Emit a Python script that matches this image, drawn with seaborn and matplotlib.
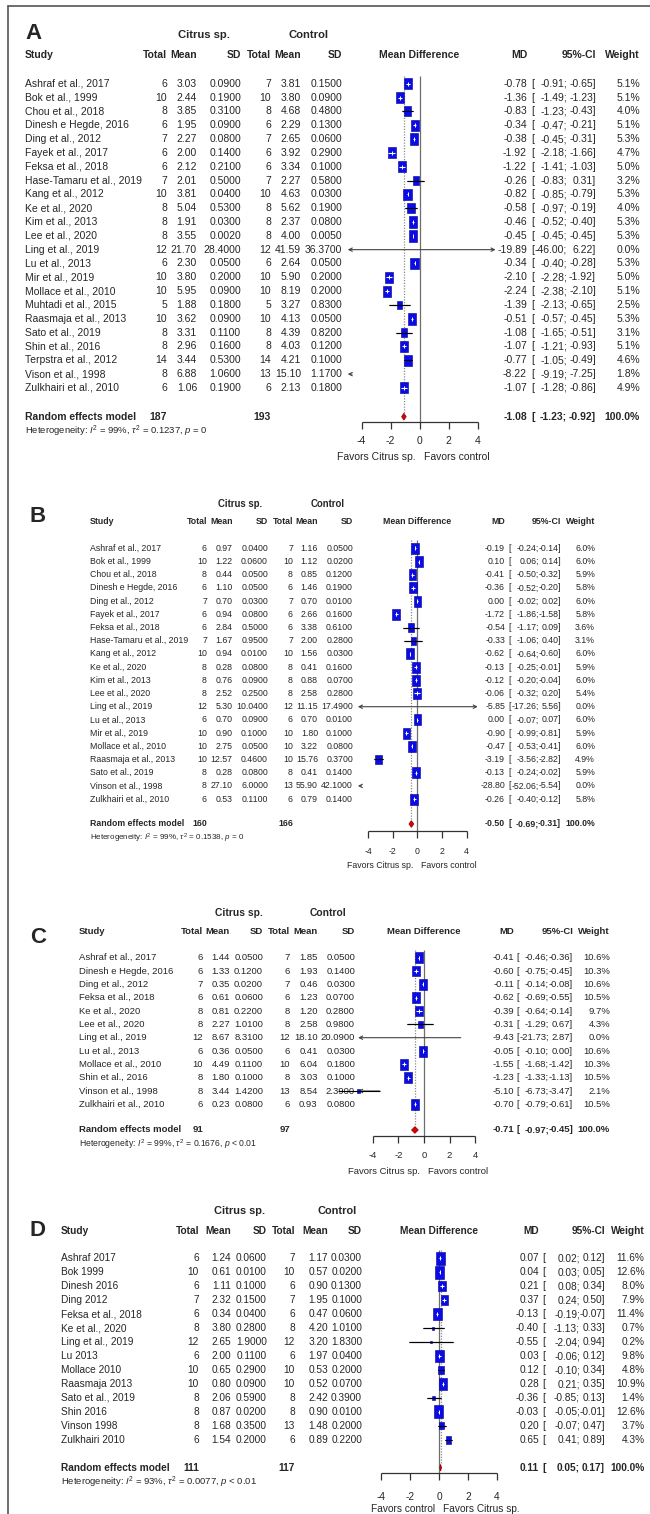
import numpy as np
import pandas as pd
import matplotlib
matplotlib.use("Agg")
import matplotlib.pyplot as plt
from matplotlib.lines import Line2D
import seaborn as sns

# ---------------- panel A ----------------
a_study = ["Ashraf et al., 2017", "Bok et al., 1999", "Chou et al., 2018", "Dinesh e Hegde, 2016",
           "Ding et al., 2012", "Fayek et al., 2017", "Feksa et al., 2018", "Hase-Tamaru et al., 2019",
           "Kang et al., 2012", "Ke et al., 2020", "Kim et al., 2013", "Lee et al., 2020",
           "Ling et al., 2019", "Lu et al., 2013", "Mir et al., 2019", "Mollace et al., 2010",
           "Muhtadi et al., 2015", "Raasmaja et al., 2013", "Sato et al., 2019", "Shin et al., 2016",
           "Terpstra et al., 2012", "Vison et al., 1998", "Zulkhairi et al., 2010"]
a_n1 = [6, 10, 8, 6, 7, 6, 6, 7, 10, 8, 8, 8, 12, 6, 10, 10, 5, 10, 8, 8, 14, 8, 6]
a_mean1 = [3.03, 2.44, 3.85, 1.95, 2.27, 2.00, 2.12, 2.01, 3.81, 5.04, 1.91, 3.55, 21.70, 2.30,
           3.80, 5.95, 1.88, 3.62, 3.31, 2.96, 3.44, 6.88, 1.06]
a_sd1 = [0.09, 0.19, 0.31, 0.09, 0.08, 0.14, 0.21, 0.50, 0.04, 0.53, 0.03, 0.002, 28.40, 0.05,
         0.20, 0.09, 0.18, 0.09, 0.11, 0.16, 0.53, 1.06, 0.19]
a_n2 = [7, 10, 8, 6, 7, 6, 6, 7, 10, 8, 8, 8, 12, 6, 10, 10, 5, 10, 8, 8, 14, 13, 6]
a_mean2 = [3.81, 3.80, 4.68, 2.29, 2.65, 3.92, 3.34, 2.27, 4.63, 5.62, 2.37, 4.00, 41.59, 2.64,
           5.90, 8.19, 3.27, 4.13, 4.39, 4.03, 4.21, 15.10, 2.13]
a_sd2 = [0.15, 0.09, 0.48, 0.13, 0.06, 0.29, 0.10, 0.58, 0.03, 0.19, 0.08, 0.005, 36.37, 0.05,
         0.20, 0.20, 0.83, 0.05, 0.82, 0.12, 0.10, 1.17, 0.18]
a_md = [-0.78, -1.36, -0.83, -0.34, -0.38, -1.92, -1.22, -0.26, -0.82, -0.58, -0.46, -0.45, -19.89,
        -0.34, -2.10, -2.24, -1.39, -0.51, -1.08, -1.07, -0.77, -8.22, -1.07]
a_lo = [-0.91, -1.49, -1.23, -0.47, -0.45, -2.18, -1.41, -0.83, -0.85, -0.97, -0.52, -0.45, -46.00,
        -0.40, -2.28, -2.38, -2.13, -0.57, -1.65, -1.21, -1.05, -9.19, -1.28]
a_hi = [-0.65, -1.23, -0.43, -0.21, -0.31, -1.66, -1.03, 0.31, -0.79, -0.19, -0.40, -0.45, 6.22,
        -0.28, -1.92, -2.10, -0.65, -0.45, -0.51, -0.93, -0.49, -7.25, -0.86]
a_wt = [5.1, 5.1, 4.0, 5.1, 5.3, 4.7, 5.0, 3.2, 5.3, 4.0, 5.3, 5.3, 0.0, 5.3, 5.0, 5.1, 2.5, 5.3,
        3.1, 5.1, 4.6, 1.8, 4.9]
a_pooled = [187, 193, -1.08, -1.23, -0.92]
a_het = r"Heterogeneity: $I^2$ = 99%, $\tau^2$ = 0.1237, $p$ = 0"

# ---------------- panel B ----------------
b_study = ["Ashraf et al., 2017", "Bok et al., 1999", "Chou et al., 2018", "Dinesh e Hegde, 2016",
           "Ding et al., 2012", "Fayek et al., 2017", "Feksa et al., 2018", "Hase-Tamaru et al., 2019",
           "Kang et al., 2012", "Ke et al., 2020", "Kim et al., 2013", "Lee et al., 2020",
           "Ling et al., 2019", "Lu et al., 2013", "Mir et al., 2019", "Mollace et al., 2010",
           "Raasmaja et al., 2013", "Sato et al., 2019", "Vinson et al., 1998", "Zulkhairi et al., 2010"]
b_n1 = [6, 10, 8, 6, 7, 6, 6, 7, 10, 8, 8, 8, 12, 6, 10, 10, 10, 8, 8, 6]
b_mean1 = [0.97, 1.22, 0.44, 1.10, 0.70, 0.94, 2.84, 1.67, 0.94, 0.28, 0.76, 2.52, 5.30, 0.70,
           0.90, 2.75, 12.57, 0.28, 27.10, 0.53]
b_sd1 = [0.04, 0.06, 0.05, 0.05, 0.03, 0.08, 0.50, 0.95, 0.01, 0.08, 0.09, 0.25, 10.04, 0.09,
         0.10, 0.05, 0.46, 0.08, 6.00, 0.11]
b_n2 = [7, 10, 8, 6, 7, 6, 6, 7, 10, 8, 8, 8, 12, 6, 10, 10, 10, 8, 13, 6]
b_mean2 = [1.16, 1.12, 0.85, 1.46, 0.70, 2.66, 3.38, 2.00, 1.56, 0.41, 0.88, 2.58, 11.15, 0.70,
           1.80, 3.22, 15.76, 0.41, 55.90, 0.79]
b_sd2 = [0.05, 0.02, 0.12, 0.19, 0.01, 0.16, 0.61, 0.28, 0.03, 0.16, 0.07, 0.28, 17.49, 0.01,
         0.10, 0.08, 0.37, 0.14, 42.10, 0.14]
b_md = [-0.19, 0.10, -0.41, -0.36, 0.00, -1.72, -0.54, -0.33, -0.62, -0.13, -0.12, -0.06, -5.85,
        0.00, -0.90, -0.47, -3.19, -0.13, -28.80, -0.26]
b_lo = [-0.24, 0.06, -0.50, -0.52, -0.02, -1.86, -1.17, -1.06, -0.64, -0.25, -0.20, -0.32, -17.26,
        -0.07, -0.99, -0.53, -3.56, -0.24, -52.06, -0.40]
b_hi = [-0.14, 0.14, -0.32, -0.20, 0.02, -1.58, 0.09, 0.40, -0.60, -0.01, -0.04, 0.20, 5.56,
        0.07, -0.81, -0.41, -2.82, -0.02, -5.54, -0.12]
b_wt = [6.0, 6.0, 5.9, 5.8, 6.0, 5.8, 3.6, 3.1, 6.0, 5.9, 6.0, 5.4, 0.0, 6.0, 5.9, 6.0, 4.9, 5.9,
        0.0, 5.8]
b_pooled = [160, 166, -0.50, -0.69, -0.31]
b_het = r"Heterogeneity: $I^2$ = 99%, $\tau^2$ = 0.1538, $p$ = 0"

# ---------------- panel C ----------------
c_study = ["Ashraf et al., 2017", "Dinesh e Hegde, 2016", "Ding et al., 2012", "Feksa et al., 2018",
           "Ke et al., 2020", "Lee et al., 2020", "Ling et al., 2019", "Lu et al., 2013",
           "Mollace et al., 2010", "Shin et al., 2016", "Vinson et al., 1998", "Zulkhairi et al., 2010"]
c_n1 = [6, 6, 7, 6, 8, 8, 12, 6, 10, 8, 8, 6]
c_mean1 = [1.44, 1.33, 0.35, 0.61, 0.81, 2.27, 8.67, 0.36, 4.49, 1.80, 3.44, 0.23]
c_sd1 = [0.05, 0.12, 0.02, 0.06, 0.22, 1.01, 8.31, 0.05, 0.11, 0.10, 1.42, 0.08]
c_n2 = [7, 6, 7, 6, 8, 8, 12, 6, 10, 8, 13, 6]
c_mean2 = [1.85, 1.93, 0.46, 1.23, 1.20, 2.58, 18.10, 0.41, 6.04, 3.03, 8.54, 0.93]
c_sd2 = [0.05, 0.14, 0.03, 0.07, 0.28, 0.98, 20.09, 0.03, 0.18, 0.10, 2.39, 0.08]
c_md = [-0.41, -0.60, -0.11, -0.62, -0.39, -0.31, -9.43, -0.05, -1.55, -1.23, -5.10, -0.70]
c_lo = [-0.46, -0.75, -0.14, -0.69, -0.64, -1.29, -21.73, -0.10, -1.68, -1.33, -6.73, -0.79]
c_hi = [-0.36, -0.45, -0.08, -0.55, -0.14, 0.67, 2.87, 0.00, -1.42, -1.13, -3.47, -0.61]
c_wt = [10.6, 10.3, 10.6, 10.5, 9.7, 4.3, 0.0, 10.6, 10.3, 10.5, 2.1, 10.5]
c_pooled = [91, 97, -0.71, -0.97, -0.45]
c_het = r"Heterogeneity: $I^2$ = 99%, $\tau^2$ = 0.1676, $p$ < 0.01"

# ---------------- panel D ----------------
d_study = ["Ashraf 2017", "Bok 1999", "Dinesh 2016", "Ding 2012", "Feksa et al., 2018",
           "Ke et al., 2020", "Ling et al., 2019", "Lu 2013", "Mollace 2010", "Raasmaja 2013",
           "Sato et al., 2019", "Shin 2016", "Vinson 1998", "Zulkhairi 2010"]
d_n1 = [6, 10, 6, 7, 6, 8, 12, 6, 10, 10, 8, 8, 8, 6]
d_mean1 = [1.24, 0.61, 1.11, 2.32, 0.34, 3.80, 2.65, 2.00, 0.65, 0.80, 2.06, 0.87, 1.68, 1.54]
d_sd1 = [0.06, 0.01, 0.10, 0.15, 0.04, 0.28, 1.90, 0.11, 0.29, 0.09, 0.59, 0.02, 0.35, 0.20]
d_n2 = [7, 10, 6, 7, 6, 8, 12, 6, 10, 10, 8, 8, 13, 6]
d_mean2 = [1.17, 0.57, 0.90, 1.95, 0.47, 4.20, 3.20, 1.97, 0.53, 0.52, 2.42, 0.90, 1.48, 0.89]
d_sd2 = [0.03, 0.02, 0.13, 0.10, 0.06, 1.01, 1.83, 0.04, 0.20, 0.07, 0.39, 0.01, 0.20, 0.22]
d_md = [0.07, 0.04, 0.21, 0.37, -0.13, -0.40, -0.55, 0.03, 0.12, 0.28, -0.36, -0.03, 0.20, 0.65]
d_lo = [0.02, 0.03, 0.08, 0.24, -0.19, -1.13, -2.04, -0.06, -0.10, 0.21, -0.85, -0.05, -0.07, 0.41]
d_hi = [0.12, 0.05, 0.34, 0.50, -0.07, 0.33, 0.94, 0.12, 0.34, 0.35, 0.13, -0.01, 0.47, 0.89]
d_wt = [11.6, 12.6, 8.0, 7.9, 11.4, 0.7, 0.2, 9.8, 4.8, 10.9, 1.4, 12.6, 3.7, 4.3]
d_pooled = [111, 117, 0.11, 0.05, 0.17]
d_het = r"Heterogeneity: $I^2$ = 93%, $\tau^2$ = 0.0077, $p$ < 0.01"

md_ticks = [-4, -2, 0, 2, 4]
col_heads = ["Total", "Mean", "SD", "Total", "Mean", "SD"]
fav_citrus_left = ["Favors Citrus sp.", "Favors control"]
fav_control_left = ["Favors control", "Favors Citrus sp."]

# page layout in pixels (figure is 650 x 1514)
W, H = 650, 1514
lay_a = dict(zero=419.5, scale=14.5, y0=83.7, dy=13.83, lab=(25, 34), grp_y=35, cit_x=204, con_x=308,
             hdr_y=55, study_x=25, cols=[167, 197, 241, 271, 301, 342], md_r=527, ci_l=531, semi=567,
             ci_r=596, w_r=640, rand_y=416.7, het_y=431.5, axis_y=421.7, tl_y=441.5, fav_y=457.5,
             fs=7.5, hfs=6.8, clip=(-4.95, 5.25), hmax=11.5)
lay_b = dict(zero=417.5, scale=12.3, y0=548.3, dy=13.2, lab=(30, 517), grp_y=504, cit_x=240, con_x=328,
             hdr_y=522, study_x=90, cols=[207, 232.5, 268, 293, 318, 353], md_r=505, ci_l=508.5, semi=539,
             ci_r=561, w_r=595, rand_y=824, het_y=838, axis_y=831, tl_y=852, fav_y=865,
             fs=6.3, hfs=5.8, clip=(-4.85, 4.9), hmax=11.0)
lay_c = dict(zero=424, scale=12.8, y0=957.7, dy=13.33, lab=(30, 938), grp_y=913, cit_x=239, con_x=328,
             hdr_y=932, study_x=79, cols=[203, 230, 263, 290, 317.5, 355], md_r=514, ci_l=516.5, semi=549,
             ci_r=573, w_r=610, rand_y=1130, het_y=1144, axis_y=1136, tl_y=1156, fav_y=1171,
             fs=6.8, hfs=6.2, clip=(-5.15, 5.15), hmax=11.0)
lay_d = dict(zero=439, scale=14.5, y0=1258.3, dy=13.97, lab=(30, 1230), grp_y=1211, cit_x=240, con_x=337.5,
             hdr_y=1231, study_x=61, cols=[199, 231, 267, 295, 328, 362], md_r=539, ci_l=542.5, semi=580,
             ci_r=605, w_r=644.5, rand_y=1467.7, het_y=1482.7, axis_y=1473, tl_y=1497, fav_y=1509.5,
             fs=7.3, hfs=6.8, clip=(-5.1, 5.1), hmax=13.0)

BLUE = "#0b0be6"
BLUE_EDGE = "#00008b"
GREY = "#6e6e6e"
# tall rectangle marker (the squares look narrower than tall)
RECT = [(-0.36, -0.5), (0.36, -0.5), (0.36, 0.5), (-0.36, 0.5), (-0.36, -0.5)]


def draw_panel(fig, letter, study, n1, m1, s1, n2, m2, s2, md, lo, hi, wt, pooled, het, fav, lay):
    zero, scale, y0, dy = lay["zero"], lay["scale"], lay["y0"], lay["dy"]
    ax = fig.add_axes([0, 0, 1, 1])
    X = lambda px: (px - zero) / scale
    Y = lambda py: (py - y0) / dy
    fs = lay["fs"]
    md, lo, hi, wt = map(np.asarray, (md, lo, hi, wt))
    rows = np.arange(len(study))

    # titles
    ax.text(X(lay["lab"][0]), Y(lay["lab"][1]), letter, fontsize=16, fontweight="bold",
            ha="left", va="center")
    ax.text(X(lay["cit_x"]), Y(lay["grp_y"]), "Citrus sp.", fontsize=fs + 0.6, fontweight="bold",
            ha="center", va="center")
    ax.text(X(lay["con_x"]), Y(lay["grp_y"]), "Control", fontsize=fs + 0.6, fontweight="bold",
            ha="center", va="center")
    hy = Y(lay["hdr_y"])
    hk = dict(fontsize=fs, fontweight="bold", va="center")
    ax.text(X(lay["study_x"]), hy, "Study", ha="left", **hk)
    for px, lab in zip(lay["cols"], col_heads):
        ax.text(X(px), hy, lab, ha="right", **hk)
    ax.text(0, hy, "Mean Difference", ha="center", **hk)
    ax.text(X(lay["md_r"]), hy, "MD", ha="right", **hk)
    ax.text(X(lay["ci_r"]), hy, "95%-CI", ha="right", **hk)
    ax.text(X(lay["w_r"]), hy, "Weight", ha="right", **hk)

    # table rows
    tk = dict(fontsize=fs, va="center")
    for i in rows:
        ax.text(X(lay["study_x"]), i, study[i], ha="left", **tk)
        vals = [str(n1[i]), "%.2f" % m1[i], "%.4f" % s1[i], str(n2[i]), "%.2f" % m2[i], "%.4f" % s2[i]]
        for px, v in zip(lay["cols"], vals):
            ax.text(X(px), i, v, ha="right", **tk)
        ax.text(X(lay["md_r"]), i, "%.2f" % md[i], ha="right", **tk)
        ax.text(X(lay["ci_l"]), i, "[", ha="left", **tk)
        ax.text(X(lay["semi"]), i, "%.2f;" % lo[i], ha="right", **tk)
        ax.text(X(lay["ci_r"]), i, "%.2f]" % hi[i], ha="right", **tk)
        ax.text(X(lay["w_r"]), i, "%.1f%%" % wt[i], ha="right", **tk)

    # pooled row
    yr = Y(lay["rand_y"])
    bk = dict(fontsize=fs, fontweight="bold", va="center")
    ax.text(X(lay["study_x"]), yr, "Random effects model", ha="left", **bk)
    ax.text(X(lay["cols"][0]), yr, str(pooled[0]), ha="right", **bk)
    ax.text(X(lay["cols"][3]), yr, str(pooled[1]), ha="right", **bk)
    ax.text(X(lay["md_r"]), yr, "%.2f" % pooled[2], ha="right", **bk)
    ax.text(X(lay["ci_l"]), yr, "[", ha="left", **bk)
    ax.text(X(lay["semi"]), yr, "%.2f;" % pooled[3], ha="right", **bk)
    ax.text(X(lay["ci_r"]), yr, "%.2f]" % pooled[4], ha="right", **bk)
    ax.text(X(lay["w_r"]), yr, "100.0%", ha="right", **bk)
    ax.text(X(lay["study_x"]), Y(lay["het_y"]), het, fontsize=lay["hfs"], ha="left", va="center")

    # reference lines
    top = Y(lay["y0"] - 8)
    hh = 3.3 / dy
    ax.vlines(0, top, Y(lay["axis_y"]), color=GREY, lw=0.9, zorder=1)
    ax.vlines(pooled[2], top, yr - hh, color="#8c8c8c", lw=0.9, linestyles=(0, (1, 1.2)), zorder=1)

    # confidence intervals
    c0, c1 = lay["clip"]
    akw = dict(color="#444444", lw=0.8, shrinkA=0, shrinkB=0, mutation_scale=6)
    for i in rows:
        if lo[i] >= c0 and hi[i] <= c1:
            ax.hlines(i, lo[i], hi[i], color="black", lw=0.8, zorder=2)
        elif hi[i] < c0:
            ax.annotate("", xy=(c0, i), xytext=(c0 + 0.3, i), arrowprops=dict(arrowstyle="->", **akw))
        elif lo[i] < c0 and hi[i] > c1:
            ax.annotate("", xy=(c1, i), xytext=(c0, i), arrowprops=dict(arrowstyle="<->", **akw))
        elif lo[i] < c0:
            ax.annotate("", xy=(c0, i), xytext=(hi[i], i), arrowprops=dict(arrowstyle="->", **akw))
        else:
            ax.annotate("", xy=(c1, i), xytext=(lo[i], i), arrowprops=dict(arrowstyle="->", **akw))

    # weighted squares
    df = pd.DataFrame({"md": md, "row": rows, "w": wt, "lo": lo, "hi": hi})
    df = df[(df.w > 0) & (df.md > c0) & (df.md < c1)]
    wmax = wt.max()
    smax = (lay["hmax"] * 0.72) ** 2
    sns.scatterplot(data=df, x="md", y="row", size="w", sizes=(0, smax), size_norm=(0, wmax),
                    marker=RECT, color=BLUE, edgecolor=BLUE_EDGE, linewidth=0.4, legend=False,
                    ax=ax, zorder=3)
    for _, r in df.iterrows():
        sq_px = 0.72 * lay["hmax"] * np.sqrt(r.w / wmax)
        if (r.hi - r.lo) * scale < sq_px:
            ax.hlines(r.row, r.lo, r.hi, color="white", lw=0.8, zorder=4)
            ax.plot(r.md, r.row, marker="|", ms=2.2, mew=0.7, color="white", zorder=4)
        else:
            ax.hlines(r.row, r.lo, r.hi, color="black", lw=0.8, zorder=4)

    # pooled diamond
    ax.fill([pooled[3], pooled[2], pooled[4], pooled[2]], [yr, yr - hh, yr, yr + hh],
            facecolor="#e00000", edgecolor="#9b0000", lw=0.6, zorder=3)

    # bottom axis
    ya = Y(lay["axis_y"])
    ax.hlines(ya, md_ticks[0], md_ticks[-1], color="#333333", lw=0.9)
    for t in md_ticks:
        ax.vlines(t, ya, Y(lay["axis_y"] + 7), color="#333333", lw=0.9)
        ax.text(t, Y(lay["tl_y"]), str(t), fontsize=fs, ha="center", va="center")
    gap = 4 / scale
    ax.text(-gap, Y(lay["fav_y"]), fav[0], fontsize=fs, ha="right", va="center")
    ax.text(gap, Y(lay["fav_y"]), fav[1], fontsize=fs, ha="left", va="center")

    ax.set_xlim((0 - zero) / scale, (W - zero) / scale)
    ax.set_ylim((H - y0) / dy, (0 - y0) / dy)
    ax.axis("off")
    ax.patch.set_alpha(0)
    return ax


sns.set_theme(style="white")
plt.rcParams["font.family"] = ["Liberation Sans", "DejaVu Sans"]
plt.rcParams["mathtext.fontset"] = "custom"
plt.rcParams["mathtext.rm"] = "Liberation Sans"
plt.rcParams["mathtext.it"] = "Liberation Sans:italic"
plt.rcParams["mathtext.bf"] = "Liberation Sans:bold"

fig = plt.figure(figsize=(W / 100, H / 100), dpi=100)
fig.patch.set_facecolor("white")

draw_panel(fig, "A", a_study, a_n1, a_mean1, a_sd1, a_n2, a_mean2, a_sd2, a_md, a_lo, a_hi, a_wt,
           a_pooled, a_het, fav_citrus_left, lay_a)
draw_panel(fig, "B", b_study, b_n1, b_mean1, b_sd1, b_n2, b_mean2, b_sd2, b_md, b_lo, b_hi, b_wt,
           b_pooled, b_het, fav_citrus_left, lay_b)
draw_panel(fig, "C", c_study, c_n1, c_mean1, c_sd1, c_n2, c_mean2, c_sd2, c_md, c_lo, c_hi, c_wt,
           c_pooled, c_het, fav_citrus_left, lay_c)
draw_panel(fig, "D", d_study, d_n1, d_mean1, d_sd1, d_n2, d_mean2, d_sd2, d_md, d_lo, d_hi, d_wt,
           d_pooled, d_het, fav_control_left, lay_d)

# frame lines on the left and top of the page
fig.add_artist(Line2D([8 / W, 8 / W], [0, 1 - 6 / H], color="#555555", lw=1.2))
fig.add_artist(Line2D([8 / W, 1], [1 - 6 / H, 1 - 6 / H], color="#555555", lw=1.2))

fig.savefig("out.png", dpi=100)
